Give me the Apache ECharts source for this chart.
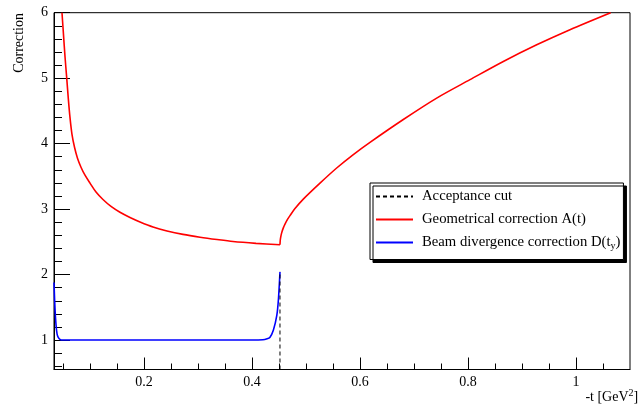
<!DOCTYPE html>
<html>
<head>
<meta charset="utf-8">
<script src="https://cdn.jsdelivr.net/npm/echarts@6/dist/echarts.min.js"></script>
<style>html,body{margin:0;padding:0;background:#fff}#c{width:644px;height:404px}</style>
</head>
<body>
<div id="c"></div>
<script>
// ---- data ----
const geoLeftT = [0.0481, 0.0509, 0.0537, 0.0568, 0.0598, 0.0629, 0.0666, 0.0713, 0.0768, 0.0833, 0.0907, 0.1000, 0.1111, 0.1240, 0.1389, 0.1555, 0.1740, 0.1926, 0.2166, 0.2426, 0.2722, 0.3037, 0.3352, 0.3648, 0.4074, 0.4518];
const geoLeftA = [6.000, 5.661, 5.327, 5.008, 4.688, 4.400, 4.141, 3.944, 3.777, 3.640, 3.518, 3.397, 3.260, 3.146, 3.040, 2.951, 2.872, 2.804, 2.728, 2.667, 2.614, 2.571, 2.535, 2.505, 2.477, 2.455];
const geoRightT = [0.4518, 0.4524, 0.4537, 0.4555, 0.4580, 0.4611, 0.4657, 0.4703, 0.4796, 0.4950, 0.5259, 0.5568, 0.5870, 0.6185, 0.6802, 0.7420, 0.8037, 0.8654, 0.9272, 0.9888, 1.0642];
const geoRightA = [2.455, 2.532, 2.596, 2.655, 2.713, 2.770, 2.842, 2.900, 3.009, 3.153, 3.397, 3.628, 3.830, 4.020, 4.369, 4.696, 4.977, 5.255, 5.509, 5.740, 6.000];
const beamT = [0.0333, 0.0345, 0.036, 0.038, 0.040, 0.043, 0.047, 0.060, 0.100, 0.200, 0.300, 0.400, 0.420, 0.428, 0.433, 0.4395, 0.446, 0.449, 0.4518];
const beamD = [1.88, 1.60, 1.35, 1.15, 1.06, 1.02, 1.00, 1.00, 1.00, 1.00, 1.00, 1.00, 1.005, 1.02, 1.04, 1.15, 1.38, 1.63, 2.04];
const cutT = [0.4518, 0.4518];
const cutY = [0.55, 2.05];
const xMajorTicks = [0.2, 0.4, 0.6, 0.8, 1.0];
const xMinorTicks = [0.05, 0.1, 0.15, 0.25, 0.3, 0.35, 0.45, 0.5, 0.55, 0.65, 0.7, 0.75, 0.85, 0.9, 0.95, 1.05];
const yMajorTicks = [1, 2, 3, 4, 5, 6];
const yMinorTicks = [0.6, 0.8, 1.2, 1.4, 1.6, 1.8, 2.2, 2.4, 2.6, 2.8, 3.2, 3.4, 3.6, 3.8, 4.2, 4.4, 4.6, 4.8, 5.2, 5.4, 5.6, 5.8];
const legendNames = ['Acceptance cut', 'Geometrical correction A(t)', 'Beam divergence correction D(t_y)'];

const zip = (a, b) => a.map((v, i) => [v, b[i]]);
const FONT = 'Liberation Serif';
const XMIN = 0.0333, XMAX = 1.1, YMIN = 0.55, YMAX = 6;

const chart = echarts.init(document.getElementById('c'), null, {renderer: 'canvas'});
chart.setOption({
  animation: false,
  backgroundColor: '#fff',
  grid: {left: 54, right: 14, top: 12.7, bottom: 32, show: true, borderColor: '#000', borderWidth: 1, backgroundColor: 'transparent'},
  legend: {
    data: legendNames,
    orient: 'vertical',
    left: 370, top: 183,
    padding: [6, 3, 8, 5],
    itemGap: 8,
    itemWidth: 37, itemHeight: 15,
    backgroundColor: '#fff',
    borderColor: '#000', borderWidth: 1,
    shadowColor: '#000', shadowBlur: 0, shadowOffsetX: 3, shadowOffsetY: 3,
    selectedMode: false,
    itemStyle: {opacity: 0},
    textStyle: {
      fontFamily: FONT, fontSize: 14.7, color: '#000', padding: [0, 0, 0, 4],
      rich: {
        n: {fontFamily: FONT, fontSize: 14.7, color: '#000'},
        s: {fontFamily: FONT, fontSize: 10, color: '#000', padding: [8, 0, 0, 0]}
      }
    },
    formatter: function (name) {
      if (name.indexOf('t_y') >= 0) {
        return '{n|Beam divergence correction D(t}{s|y}{n|)}';
      }
      return '{n|' + name + '}';
    }
  },
  xAxis: [{
    type: 'value', min: XMIN, max: XMAX,
    axisLine: {show: true, lineStyle: {color: '#000', width: 1}},
    axisTick: {show: true, inside: true, length: 12, customValues: xMajorTicks, lineStyle: {color: '#000'}},
    axisLabel: {show: true, customValues: xMajorTicks, margin: 6, fontFamily: FONT, fontSize: 14, color: '#000',
      formatter: v => String(Math.round(v * 100) / 100)},
    splitLine: {show: false},
    name: '{a|-t [GeV}{b|2}{a|]}',
    nameLocation: 'end', nameGap: 0,
    nameTextStyle: {align: 'right', verticalAlign: 'top', padding: [19, 0, 0, 0],
      rich: {a: {fontFamily: FONT, fontSize: 14, color: '#000'}, b: {fontFamily: FONT, fontSize: 10, color: '#000', padding: [0, 0, 7, 0]}}}
  }, {
    type: 'value', min: XMIN, max: XMAX, position: 'bottom',
    axisLine: {show: false},
    axisTick: {show: true, inside: true, length: 6, customValues: xMinorTicks, lineStyle: {color: '#000'}},
    axisLabel: {show: false},
    splitLine: {show: false}
  }],
  yAxis: [{
    type: 'value', min: YMIN, max: YMAX,
    axisLine: {show: true, lineStyle: {color: '#000', width: 1}},
    axisTick: {show: true, inside: true, length: 16, customValues: yMajorTicks, lineStyle: {color: '#000'}},
    axisLabel: {show: true, customValues: yMajorTicks, margin: 6, fontFamily: FONT, fontSize: 14, color: '#000'},
    splitLine: {show: false}
  }, {
    type: 'value', min: YMIN, max: YMAX, position: 'left',
    axisLine: {show: false},
    axisTick: {show: true, inside: true, length: 8, customValues: yMinorTicks, lineStyle: {color: '#000'}},
    axisLabel: {show: false},
    splitLine: {show: false}
  }],
  graphic: [{
    type: 'text', x: 19, y: 13, rotation: Math.PI / 2,
    style: {text: 'Correction', fontFamily: FONT, fontSize: 14, fill: '#000', align: 'right', verticalAlign: 'middle'}
  }],
  series: [{
    name: legendNames[1], type: 'line', xAxisIndex: 0, yAxisIndex: 0,
    data: zip(geoLeftT, geoLeftA), showSymbol: false, symbol: 'none', smooth: 0.3,
    lineStyle: {color: '#ff0000', width: 1.6}, itemStyle: {color: '#ff0000'}, clip: true
  }, {
    name: legendNames[1], type: 'line', xAxisIndex: 0, yAxisIndex: 0,
    data: zip(geoRightT, geoRightA), showSymbol: false, symbol: 'none', smooth: 0.3,
    lineStyle: {color: '#ff0000', width: 1.6}, itemStyle: {color: '#ff0000'}, clip: true
  }, {
    name: legendNames[2], type: 'line', xAxisIndex: 0, yAxisIndex: 0,
    data: zip(beamT, beamD), showSymbol: false, symbol: 'none', smooth: 0.2,
    lineStyle: {color: '#0000ff', width: 1.6}, itemStyle: {color: '#0000ff'}, clip: true
  }, {
    name: legendNames[0], type: 'line', xAxisIndex: 0, yAxisIndex: 0,
    data: zip(cutT, cutY), showSymbol: false, symbol: 'none',
    lineStyle: {color: '#000', width: 1, type: [4, 3]}, itemStyle: {color: '#000'}
  }]
});
</script>
</body>
</html>
